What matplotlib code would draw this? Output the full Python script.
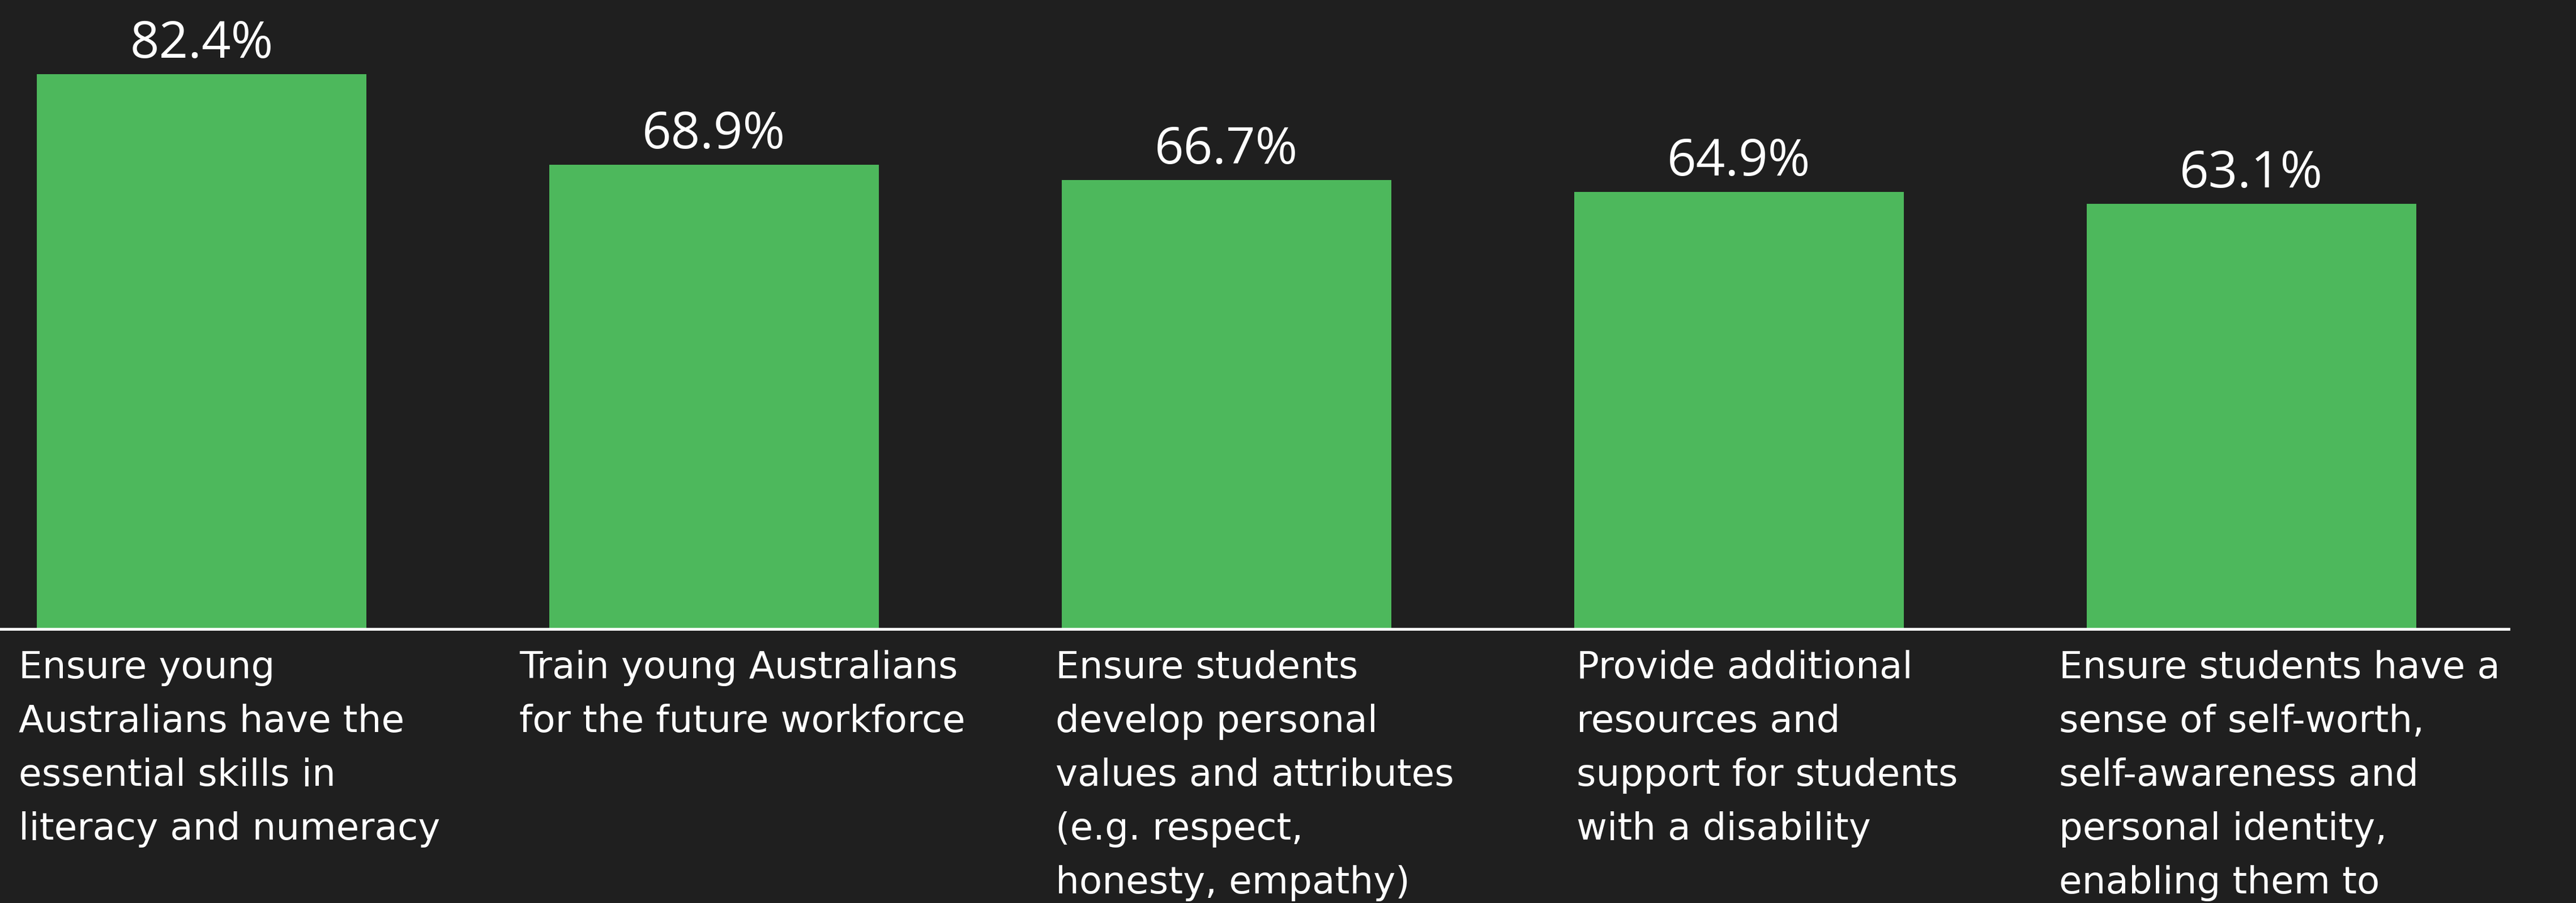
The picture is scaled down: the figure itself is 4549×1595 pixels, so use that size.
import matplotlib
matplotlib.use("Agg")
import matplotlib.pyplot as plt

# data
categories = [
    "Ensure young\nAustralians have the\nessential skills in\nliteracy and numeracy",
    "Train young Australians\nfor the future workforce",
    "Ensure students\ndevelop personal\nvalues and attributes\n(e.g. respect,\nhonesty, empathy)",
    "Provide additional\nresources and\nsupport for students\nwith a disability",
    "Ensure students have a\nsense of self-worth,\nself-awareness and\npersonal identity,\nenabling them to",
]
values = [82.4, 68.9, 66.7, 64.9, 63.1]

bg = "#1f1f1f"
green = "#4db85c"

W, H = 4549, 1595
fig = plt.figure(figsize=(W / 100, H / 100), dpi=100, facecolor=bg)
base_px = 1111
ax = fig.add_axes([0, 1 - base_px / H, 4430 / W, base_px / H])
ax.set_facecolor(bg)

x = list(range(len(values)))
bars = ax.bar(x, values, width=0.643, color=green)
ax.set_xlim(-0.393, 4.502)
ax.set_ylim(0, 93.4)

for s in ["top", "left", "right"]:
    ax.spines[s].set_visible(False)
ax.spines["bottom"].set_color("white")
ax.spines["bottom"].set_linewidth(3.6)
ax.set_xticks([])
ax.set_yticks([])

px = 72 / 100  # points per pixel

for xi, v in zip(x, values):
    ax.annotate(f"{v}%", xy=(xi, v), xytext=(0, 29 * px), textcoords="offset points",
                ha="center", va="baseline", color="white", fontsize=65, family="Open Sans")

# category labels, one text per line, block centred a bit right of the bar
renderer = fig.canvas.get_renderer()
for xi, lab in zip(x, categories):
    texts = []
    for k, line in enumerate(lab.split("\n")):
        t = ax.annotate(line, xy=(xi + 0.055, 0), xycoords=("data", "axes fraction"),
                        xytext=(0, -(87 + k * 95) * px), textcoords="offset points",
                        ha="left", va="baseline", color="white", fontsize=47.5,
                        family="DejaVu Sans", annotation_clip=False)
        texts.append(t)
    wmax = max(t.get_window_extent(renderer).width for t in texts)
    for t in texts:
        t.xyann = (-wmax / 2 * px, t.xyann[1])

fig.savefig("out.png", dpi=100, facecolor=bg)
